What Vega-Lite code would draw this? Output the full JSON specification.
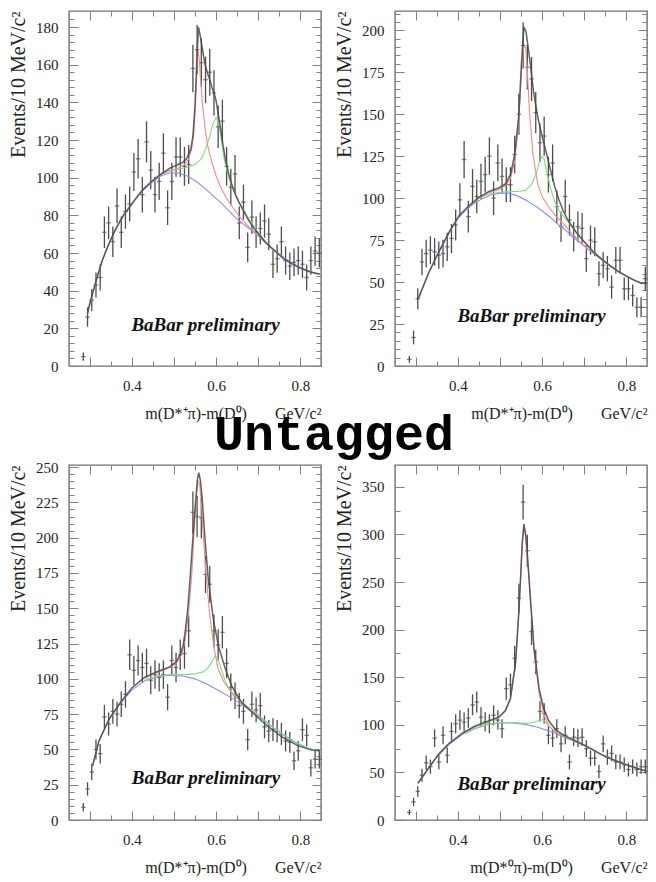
{
"$schema": "https://vega.github.io/schema/vega-lite/v6.json",
"background": "white",
"padding": {"left": 7, "top": 5, "right": 8, "bottom": 8},
"bounds": "flush",
"columns": 2,
"spacing": {"row": 99, "column": 74},
"config": {
  "view": {"stroke": "#707070", "strokeWidth": 1.4},
  "font": "Liberation Serif",
  "axis": {"grid": false, "domain": false, "labelFont": "Liberation Serif", "labelFontSize": 15, "labelColor": "#222222", "titleFont": "Liberation Serif", "titleFontWeight": "normal", "titleColor": "#222222", "tickColor": "#808080", "tickWidth": 1, "labelFlush": false, "labelOverlap": false, "labelBound": false}
},
"datasets": {
"pts": [
{"p":"TL","x":0.285,"y":5,"e":2.2},{"p":"TL","x":0.295,"y":26,"e":5.1},{"p":"TL","x":0.305,"y":35,"e":5.9},{"p":"TL","x":0.315,"y":43,"e":6.6},{"p":"TL","x":0.325,"y":47,"e":6.9},{"p":"TL","x":0.335,"y":71,"e":8.4},{"p":"TL","x":0.345,"y":76,"e":8.7},{"p":"TL","x":0.355,"y":66,"e":8.1},{"p":"TL","x":0.365,"y":85,"e":9.2},{"p":"TL","x":0.375,"y":71,"e":8.4},{"p":"TL","x":0.385,"y":82,"e":9.1},{"p":"TL","x":0.395,"y":86,"e":9.3},{"p":"TL","x":0.405,"y":103,"e":10.1},{"p":"TL","x":0.415,"y":110,"e":10.5},{"p":"TL","x":0.425,"y":91,"e":9.5},{"p":"TL","x":0.435,"y":119,"e":10.9},{"p":"TL","x":0.445,"y":104,"e":10.2},{"p":"TL","x":0.455,"y":91,"e":9.5},{"p":"TL","x":0.465,"y":98,"e":9.9},{"p":"TL","x":0.475,"y":113,"e":10.6},{"p":"TL","x":0.485,"y":84,"e":9.2},{"p":"TL","x":0.495,"y":98,"e":9.9},{"p":"TL","x":0.505,"y":111,"e":10.5},{"p":"TL","x":0.515,"y":111,"e":10.5},{"p":"TL","x":0.525,"y":106,"e":10.3},{"p":"TL","x":0.535,"y":107,"e":10.3},{"p":"TL","x":0.545,"y":158,"e":12.6},{"p":"TL","x":0.555,"y":168,"e":13},{"p":"TL","x":0.565,"y":161,"e":12.7},{"p":"TL","x":0.575,"y":152,"e":12.3},{"p":"TL","x":0.585,"y":156,"e":12.5},{"p":"TL","x":0.595,"y":145,"e":12},{"p":"TL","x":0.605,"y":127,"e":11.3},{"p":"TL","x":0.615,"y":130,"e":11.4},{"p":"TL","x":0.625,"y":106,"e":10.3},{"p":"TL","x":0.635,"y":95,"e":9.7},{"p":"TL","x":0.645,"y":102,"e":10.1},{"p":"TL","x":0.655,"y":76,"e":8.7},{"p":"TL","x":0.665,"y":87,"e":9.3},{"p":"TL","x":0.675,"y":63,"e":7.9},{"p":"TL","x":0.685,"y":79,"e":8.9},{"p":"TL","x":0.695,"y":71,"e":8.4},{"p":"TL","x":0.705,"y":73,"e":8.5},{"p":"TL","x":0.715,"y":77,"e":8.8},{"p":"TL","x":0.725,"y":70,"e":8.4},{"p":"TL","x":0.735,"y":54,"e":7.3},{"p":"TL","x":0.745,"y":57,"e":7.5},{"p":"TL","x":0.755,"y":66,"e":8.1},{"p":"TL","x":0.765,"y":56,"e":7.5},{"p":"TL","x":0.775,"y":53,"e":7.3},{"p":"TL","x":0.785,"y":55,"e":7.4},{"p":"TL","x":0.795,"y":56,"e":7.5},{"p":"TL","x":0.805,"y":54,"e":7.3},{"p":"TL","x":0.815,"y":47,"e":6.9},{"p":"TL","x":0.825,"y":56,"e":7.5},{"p":"TL","x":0.835,"y":61,"e":7.8},{"p":"TL","x":0.845,"y":60,"e":7.7},
{"p":"TR","x":0.285,"y":4,"e":2},{"p":"TR","x":0.295,"y":17,"e":4.1},{"p":"TR","x":0.305,"y":40,"e":6.3},{"p":"TR","x":0.315,"y":62,"e":7.9},{"p":"TR","x":0.325,"y":67,"e":8.2},{"p":"TR","x":0.335,"y":69,"e":8.3},{"p":"TR","x":0.345,"y":68,"e":8.2},{"p":"TR","x":0.355,"y":66,"e":8.1},{"p":"TR","x":0.365,"y":67,"e":8.2},{"p":"TR","x":0.375,"y":71,"e":8.4},{"p":"TR","x":0.385,"y":76,"e":8.7},{"p":"TR","x":0.395,"y":84,"e":9.2},{"p":"TR","x":0.405,"y":99,"e":9.9},{"p":"TR","x":0.415,"y":123,"e":11.1},{"p":"TR","x":0.425,"y":89,"e":9.4},{"p":"TR","x":0.435,"y":107,"e":10.3},{"p":"TR","x":0.445,"y":101,"e":10},{"p":"TR","x":0.455,"y":110,"e":10.5},{"p":"TR","x":0.465,"y":114,"e":10.7},{"p":"TR","x":0.475,"y":125,"e":11.2},{"p":"TR","x":0.485,"y":100,"e":10},{"p":"TR","x":0.495,"y":121,"e":11},{"p":"TR","x":0.505,"y":113,"e":10.6},{"p":"TR","x":0.515,"y":108,"e":10.4},{"p":"TR","x":0.525,"y":108,"e":10.4},{"p":"TR","x":0.535,"y":126,"e":11.2},{"p":"TR","x":0.545,"y":150,"e":12.2},{"p":"TR","x":0.555,"y":191,"e":13.8},{"p":"TR","x":0.565,"y":178,"e":13.3},{"p":"TR","x":0.575,"y":171,"e":13.1},{"p":"TR","x":0.585,"y":151,"e":12.3},{"p":"TR","x":0.595,"y":133,"e":11.5},{"p":"TR","x":0.605,"y":137,"e":11.7},{"p":"TR","x":0.615,"y":114,"e":10.7},{"p":"TR","x":0.625,"y":121,"e":11},{"p":"TR","x":0.635,"y":95,"e":9.7},{"p":"TR","x":0.645,"y":83,"e":9.1},{"p":"TR","x":0.655,"y":101,"e":10},{"p":"TR","x":0.665,"y":87,"e":9.3},{"p":"TR","x":0.675,"y":77,"e":8.8},{"p":"TR","x":0.685,"y":83,"e":9.1},{"p":"TR","x":0.695,"y":82,"e":9.1},{"p":"TR","x":0.705,"y":64,"e":8},{"p":"TR","x":0.715,"y":75,"e":8.7},{"p":"TR","x":0.725,"y":74,"e":8.6},{"p":"TR","x":0.735,"y":55,"e":7.4},{"p":"TR","x":0.745,"y":60,"e":7.7},{"p":"TR","x":0.755,"y":58,"e":7.6},{"p":"TR","x":0.765,"y":47,"e":6.9},{"p":"TR","x":0.775,"y":63,"e":7.9},{"p":"TR","x":0.785,"y":63,"e":7.9},{"p":"TR","x":0.795,"y":46,"e":6.8},{"p":"TR","x":0.805,"y":46,"e":6.8},{"p":"TR","x":0.815,"y":42,"e":6.5},{"p":"TR","x":0.825,"y":35,"e":5.9},{"p":"TR","x":0.835,"y":35,"e":5.9},{"p":"TR","x":0.845,"y":52,"e":7.2},
{"p":"BL","x":0.285,"y":9,"e":3},{"p":"BL","x":0.295,"y":22,"e":4.7},{"p":"BL","x":0.305,"y":34,"e":5.8},{"p":"BL","x":0.315,"y":50,"e":7.1},{"p":"BL","x":0.325,"y":47,"e":6.9},{"p":"BL","x":0.335,"y":73,"e":8.5},{"p":"BL","x":0.345,"y":68,"e":8.2},{"p":"BL","x":0.355,"y":77,"e":8.8},{"p":"BL","x":0.365,"y":75,"e":8.7},{"p":"BL","x":0.375,"y":82,"e":9.1},{"p":"BL","x":0.385,"y":89,"e":9.4},{"p":"BL","x":0.395,"y":117,"e":10.8},{"p":"BL","x":0.405,"y":106,"e":10.3},{"p":"BL","x":0.415,"y":113,"e":10.6},{"p":"BL","x":0.425,"y":108,"e":10.4},{"p":"BL","x":0.435,"y":111,"e":10.5},{"p":"BL","x":0.445,"y":99,"e":9.9},{"p":"BL","x":0.455,"y":103,"e":10.1},{"p":"BL","x":0.465,"y":101,"e":10},{"p":"BL","x":0.475,"y":103,"e":10.1},{"p":"BL","x":0.485,"y":87,"e":9.3},{"p":"BL","x":0.495,"y":113,"e":10.6},{"p":"BL","x":0.505,"y":108,"e":10.4},{"p":"BL","x":0.515,"y":117,"e":10.8},{"p":"BL","x":0.525,"y":118,"e":10.8},{"p":"BL","x":0.535,"y":134,"e":11.6},{"p":"BL","x":0.545,"y":218,"e":14.8},{"p":"BL","x":0.555,"y":215,"e":14.7},{"p":"BL","x":0.565,"y":214,"e":14.6},{"p":"BL","x":0.575,"y":174,"e":13.2},{"p":"BL","x":0.585,"y":167,"e":12.9},{"p":"BL","x":0.595,"y":134,"e":11.6},{"p":"BL","x":0.605,"y":124,"e":11.1},{"p":"BL","x":0.615,"y":133,"e":11.5},{"p":"BL","x":0.625,"y":111,"e":10.5},{"p":"BL","x":0.635,"y":94,"e":9.7},{"p":"BL","x":0.645,"y":88,"e":9.4},{"p":"BL","x":0.655,"y":81,"e":9},{"p":"BL","x":0.665,"y":77,"e":8.8},{"p":"BL","x":0.675,"y":57,"e":7.5},{"p":"BL","x":0.685,"y":82,"e":9.1},{"p":"BL","x":0.695,"y":78,"e":8.8},{"p":"BL","x":0.705,"y":81,"e":9},{"p":"BL","x":0.715,"y":66,"e":8.1},{"p":"BL","x":0.725,"y":63,"e":7.9},{"p":"BL","x":0.735,"y":64,"e":8},{"p":"BL","x":0.745,"y":63,"e":7.9},{"p":"BL","x":0.755,"y":61,"e":7.8},{"p":"BL","x":0.765,"y":56,"e":7.5},{"p":"BL","x":0.775,"y":55,"e":7.4},{"p":"BL","x":0.785,"y":42,"e":6.5},{"p":"BL","x":0.795,"y":49,"e":7},{"p":"BL","x":0.805,"y":64,"e":8},{"p":"BL","x":0.815,"y":60,"e":7.7},{"p":"BL","x":0.825,"y":37,"e":6.1},{"p":"BL","x":0.835,"y":43,"e":6.6},{"p":"BL","x":0.845,"y":43,"e":6.6},
{"p":"BR","x":0.285,"y":8,"e":2.8},{"p":"BR","x":0.295,"y":19,"e":4.4},{"p":"BR","x":0.305,"y":30,"e":5.5},{"p":"BR","x":0.315,"y":47,"e":6.9},{"p":"BR","x":0.325,"y":60,"e":7.7},{"p":"BR","x":0.335,"y":56,"e":7.5},{"p":"BR","x":0.345,"y":86,"e":9.3},{"p":"BR","x":0.355,"y":61,"e":7.8},{"p":"BR","x":0.365,"y":89,"e":9.4},{"p":"BR","x":0.375,"y":68,"e":8.2},{"p":"BR","x":0.385,"y":93,"e":9.6},{"p":"BR","x":0.395,"y":101,"e":10},{"p":"BR","x":0.405,"y":105,"e":10.2},{"p":"BR","x":0.415,"y":103,"e":10.1},{"p":"BR","x":0.425,"y":107,"e":10.3},{"p":"BR","x":0.435,"y":121,"e":11},{"p":"BR","x":0.445,"y":124,"e":11.1},{"p":"BR","x":0.455,"y":108,"e":10.4},{"p":"BR","x":0.465,"y":103,"e":10.1},{"p":"BR","x":0.475,"y":101,"e":10},{"p":"BR","x":0.485,"y":110,"e":10.5},{"p":"BR","x":0.495,"y":105,"e":10.2},{"p":"BR","x":0.505,"y":96,"e":9.8},{"p":"BR","x":0.515,"y":138,"e":11.7},{"p":"BR","x":0.525,"y":142,"e":11.9},{"p":"BR","x":0.535,"y":170,"e":13},{"p":"BR","x":0.545,"y":233,"e":15.3},{"p":"BR","x":0.555,"y":334,"e":18.3},{"p":"BR","x":0.565,"y":283,"e":16.8},{"p":"BR","x":0.575,"y":198,"e":14.1},{"p":"BR","x":0.585,"y":166,"e":12.9},{"p":"BR","x":0.595,"y":114,"e":10.7},{"p":"BR","x":0.605,"y":112,"e":10.6},{"p":"BR","x":0.615,"y":89,"e":9.4},{"p":"BR","x":0.625,"y":86,"e":9.3},{"p":"BR","x":0.635,"y":96,"e":9.8},{"p":"BR","x":0.645,"y":80,"e":8.9},{"p":"BR","x":0.655,"y":89,"e":9.4},{"p":"BR","x":0.665,"y":61,"e":7.8},{"p":"BR","x":0.675,"y":87,"e":9.3},{"p":"BR","x":0.685,"y":86,"e":9.3},{"p":"BR","x":0.695,"y":87,"e":9.3},{"p":"BR","x":0.705,"y":75,"e":8.7},{"p":"BR","x":0.715,"y":65,"e":8.1},{"p":"BR","x":0.725,"y":65,"e":8.1},{"p":"BR","x":0.735,"y":51,"e":7.1},{"p":"BR","x":0.745,"y":80,"e":8.9},{"p":"BR","x":0.755,"y":66,"e":8.1},{"p":"BR","x":0.765,"y":70,"e":8.4},{"p":"BR","x":0.775,"y":61,"e":7.8},{"p":"BR","x":0.785,"y":61,"e":7.8},{"p":"BR","x":0.795,"y":58,"e":7.6},{"p":"BR","x":0.805,"y":53,"e":7.3},{"p":"BR","x":0.815,"y":56,"e":7.5},{"p":"BR","x":0.825,"y":53,"e":7.3},{"p":"BR","x":0.835,"y":56,"e":7.5},{"p":"BR","x":0.845,"y":56,"e":7.5}
],
"crv": [
{"p":"TL","c":"b","x":0.295,"y":28},{"p":"TL","c":"b","x":0.31,"y":41},{"p":"TL","c":"b","x":0.33,"y":56},{"p":"TL","c":"b","x":0.35,"y":67},{"p":"TL","c":"b","x":0.37,"y":76},{"p":"TL","c":"b","x":0.39,"y":83},{"p":"TL","c":"b","x":0.41,"y":89},{"p":"TL","c":"b","x":0.43,"y":94},{"p":"TL","c":"b","x":0.45,"y":98},{"p":"TL","c":"b","x":0.47,"y":101},{"p":"TL","c":"b","x":0.49,"y":102.5},{"p":"TL","c":"b","x":0.51,"y":102.5},{"p":"TL","c":"b","x":0.53,"y":101},{"p":"TL","c":"b","x":0.55,"y":98.5},{"p":"TL","c":"b","x":0.57,"y":95},{"p":"TL","c":"b","x":0.59,"y":91},{"p":"TL","c":"b","x":0.61,"y":87},{"p":"TL","c":"b","x":0.63,"y":82.5},{"p":"TL","c":"b","x":0.65,"y":78},{"p":"TL","c":"b","x":0.67,"y":74.5},{"p":"TL","c":"b","x":0.69,"y":71},{"p":"TL","c":"b","x":0.71,"y":67},{"p":"TL","c":"b","x":0.73,"y":63},{"p":"TL","c":"b","x":0.75,"y":59.5},{"p":"TL","c":"b","x":0.77,"y":56.3},{"p":"TL","c":"b","x":0.79,"y":53.5},{"p":"TL","c":"b","x":0.81,"y":51.3},{"p":"TL","c":"b","x":0.83,"y":49.8},{"p":"TL","c":"b","x":0.846,"y":48.8},
{"p":"TL","c":"g","x":0.43,"y":94.3},{"p":"TL","c":"g","x":0.45,"y":98.5},{"p":"TL","c":"g","x":0.47,"y":101.8},{"p":"TL","c":"g","x":0.49,"y":103.5},{"p":"TL","c":"g","x":0.51,"y":104.5},{"p":"TL","c":"g","x":0.53,"y":105.5},{"p":"TL","c":"g","x":0.55,"y":107},{"p":"TL","c":"g","x":0.565,"y":110},{"p":"TL","c":"g","x":0.575,"y":115},{"p":"TL","c":"g","x":0.585,"y":122},{"p":"TL","c":"g","x":0.593,"y":129},{"p":"TL","c":"g","x":0.6,"y":132},{"p":"TL","c":"g","x":0.605,"y":130},{"p":"TL","c":"g","x":0.61,"y":124},{"p":"TL","c":"g","x":0.615,"y":116},{"p":"TL","c":"g","x":0.62,"y":109},{"p":"TL","c":"g","x":0.63,"y":100},{"p":"TL","c":"g","x":0.64,"y":94},{"p":"TL","c":"g","x":0.654,"y":87.5},{"p":"TL","c":"g","x":0.665,"y":83},{"p":"TL","c":"g","x":0.68,"y":77.5},{"p":"TL","c":"g","x":0.7,"y":71},{"p":"TL","c":"g","x":0.72,"y":65.5},{"p":"TL","c":"g","x":0.74,"y":61},{"p":"TL","c":"g","x":0.76,"y":57},{"p":"TL","c":"g","x":0.78,"y":54.3},{"p":"TL","c":"g","x":0.8,"y":52},{"p":"TL","c":"g","x":0.82,"y":50.2},{"p":"TL","c":"g","x":0.846,"y":48.8},
{"p":"TL","c":"r","x":0.43,"y":94.3},{"p":"TL","c":"r","x":0.45,"y":98.5},{"p":"TL","c":"r","x":0.47,"y":101.8},{"p":"TL","c":"r","x":0.49,"y":103.8},{"p":"TL","c":"r","x":0.51,"y":105},{"p":"TL","c":"r","x":0.525,"y":107},{"p":"TL","c":"r","x":0.535,"y":110},{"p":"TL","c":"r","x":0.542,"y":115},{"p":"TL","c":"r","x":0.547,"y":123},{"p":"TL","c":"r","x":0.551,"y":138},{"p":"TL","c":"r","x":0.554,"y":155},{"p":"TL","c":"r","x":0.557,"y":168},{"p":"TL","c":"r","x":0.56,"y":163},{"p":"TL","c":"r","x":0.564,"y":150},{"p":"TL","c":"r","x":0.568,"y":138},{"p":"TL","c":"r","x":0.574,"y":126},{"p":"TL","c":"r","x":0.58,"y":117},{"p":"TL","c":"r","x":0.59,"y":108},{"p":"TL","c":"r","x":0.6,"y":101},{"p":"TL","c":"r","x":0.61,"y":95.5},{"p":"TL","c":"r","x":0.625,"y":89},{"p":"TL","c":"r","x":0.64,"y":84},{"p":"TL","c":"r","x":0.66,"y":78},{"p":"TL","c":"r","x":0.68,"y":73.5},{"p":"TL","c":"r","x":0.7,"y":69.5},{"p":"TL","c":"r","x":0.72,"y":65},
{"p":"TL","c":"k","x":0.295,"y":28},{"p":"TL","c":"k","x":0.3,"y":33},{"p":"TL","c":"k","x":0.31,"y":41},{"p":"TL","c":"k","x":0.32,"y":49},{"p":"TL","c":"k","x":0.33,"y":56},{"p":"TL","c":"k","x":0.34,"y":62},{"p":"TL","c":"k","x":0.35,"y":67},{"p":"TL","c":"k","x":0.36,"y":72},{"p":"TL","c":"k","x":0.37,"y":76},{"p":"TL","c":"k","x":0.38,"y":80},{"p":"TL","c":"k","x":0.39,"y":83},{"p":"TL","c":"k","x":0.4,"y":86},{"p":"TL","c":"k","x":0.41,"y":89},{"p":"TL","c":"k","x":0.42,"y":92},{"p":"TL","c":"k","x":0.43,"y":94.5},{"p":"TL","c":"k","x":0.44,"y":96.5},{"p":"TL","c":"k","x":0.45,"y":98.5},{"p":"TL","c":"k","x":0.46,"y":100.3},{"p":"TL","c":"k","x":0.47,"y":102},{"p":"TL","c":"k","x":0.48,"y":103.5},{"p":"TL","c":"k","x":0.49,"y":105},{"p":"TL","c":"k","x":0.5,"y":106},{"p":"TL","c":"k","x":0.51,"y":107},{"p":"TL","c":"k","x":0.52,"y":108},{"p":"TL","c":"k","x":0.53,"y":110},{"p":"TL","c":"k","x":0.54,"y":115},{"p":"TL","c":"k","x":0.545,"y":122},{"p":"TL","c":"k","x":0.55,"y":138},{"p":"TL","c":"k","x":0.554,"y":160},{"p":"TL","c":"k","x":0.558,"y":180},{"p":"TL","c":"k","x":0.562,"y":176},{"p":"TL","c":"k","x":0.567,"y":169},{"p":"TL","c":"k","x":0.573,"y":161},{"p":"TL","c":"k","x":0.579,"y":156},{"p":"TL","c":"k","x":0.585,"y":152},{"p":"TL","c":"k","x":0.59,"y":148},{"p":"TL","c":"k","x":0.595,"y":145},{"p":"TL","c":"k","x":0.6,"y":141},{"p":"TL","c":"k","x":0.605,"y":134},{"p":"TL","c":"k","x":0.61,"y":127},{"p":"TL","c":"k","x":0.616,"y":118},{"p":"TL","c":"k","x":0.622,"y":110},{"p":"TL","c":"k","x":0.63,"y":102},{"p":"TL","c":"k","x":0.638,"y":96},{"p":"TL","c":"k","x":0.646,"y":91},{"p":"TL","c":"k","x":0.654,"y":87},{"p":"TL","c":"k","x":0.665,"y":82.5},{"p":"TL","c":"k","x":0.677,"y":77.5},{"p":"TL","c":"k","x":0.69,"y":73},{"p":"TL","c":"k","x":0.7,"y":70.5},{"p":"TL","c":"k","x":0.716,"y":66},{"p":"TL","c":"k","x":0.73,"y":63},{"p":"TL","c":"k","x":0.745,"y":60},{"p":"TL","c":"k","x":0.76,"y":57},{"p":"TL","c":"k","x":0.78,"y":54.3},{"p":"TL","c":"k","x":0.8,"y":52},{"p":"TL","c":"k","x":0.82,"y":50.2},{"p":"TL","c":"k","x":0.835,"y":49.2},{"p":"TL","c":"k","x":0.846,"y":48.8},
{"p":"TR","c":"b","x":0.306,"y":40},{"p":"TR","c":"b","x":0.33,"y":55},{"p":"TR","c":"b","x":0.355,"y":68},{"p":"TR","c":"b","x":0.38,"y":79.5},{"p":"TR","c":"b","x":0.4,"y":88},{"p":"TR","c":"b","x":0.42,"y":93},{"p":"TR","c":"b","x":0.44,"y":97},{"p":"TR","c":"b","x":0.46,"y":100},{"p":"TR","c":"b","x":0.48,"y":102},{"p":"TR","c":"b","x":0.5,"y":103},{"p":"TR","c":"b","x":0.52,"y":103},{"p":"TR","c":"b","x":0.54,"y":101.5},{"p":"TR","c":"b","x":0.56,"y":99},{"p":"TR","c":"b","x":0.58,"y":96},{"p":"TR","c":"b","x":0.6,"y":92.5},{"p":"TR","c":"b","x":0.62,"y":88.5},{"p":"TR","c":"b","x":0.64,"y":84},{"p":"TR","c":"b","x":0.66,"y":80},{"p":"TR","c":"b","x":0.68,"y":75.5},{"p":"TR","c":"b","x":0.7,"y":71.5},{"p":"TR","c":"b","x":0.72,"y":67.5},{"p":"TR","c":"b","x":0.74,"y":63.5},{"p":"TR","c":"b","x":0.76,"y":60},{"p":"TR","c":"b","x":0.78,"y":56.5},{"p":"TR","c":"b","x":0.8,"y":53.5},{"p":"TR","c":"b","x":0.82,"y":51},{"p":"TR","c":"b","x":0.835,"y":49.5},{"p":"TR","c":"b","x":0.85,"y":49},
{"p":"TR","c":"g","x":0.426,"y":95},{"p":"TR","c":"g","x":0.45,"y":100},{"p":"TR","c":"g","x":0.474,"y":102.5},{"p":"TR","c":"g","x":0.5,"y":103.5},{"p":"TR","c":"g","x":0.52,"y":104},{"p":"TR","c":"g","x":0.54,"y":104},{"p":"TR","c":"g","x":0.56,"y":104.5},{"p":"TR","c":"g","x":0.575,"y":108},{"p":"TR","c":"g","x":0.585,"y":114},{"p":"TR","c":"g","x":0.593,"y":121},{"p":"TR","c":"g","x":0.6,"y":125},{"p":"TR","c":"g","x":0.605,"y":123},{"p":"TR","c":"g","x":0.61,"y":117},{"p":"TR","c":"g","x":0.62,"y":106},{"p":"TR","c":"g","x":0.63,"y":98},{"p":"TR","c":"g","x":0.64,"y":92.5},{"p":"TR","c":"g","x":0.66,"y":86.5},{"p":"TR","c":"g","x":0.68,"y":80},{"p":"TR","c":"g","x":0.7,"y":74},{"p":"TR","c":"g","x":0.72,"y":68.5},{"p":"TR","c":"g","x":0.74,"y":64},{"p":"TR","c":"g","x":0.76,"y":60},{"p":"TR","c":"g","x":0.78,"y":56.5},{"p":"TR","c":"g","x":0.8,"y":53.5},{"p":"TR","c":"g","x":0.82,"y":51},{"p":"TR","c":"g","x":0.835,"y":49.5},{"p":"TR","c":"g","x":0.85,"y":49},
{"p":"TR","c":"r","x":0.426,"y":95},{"p":"TR","c":"r","x":0.45,"y":100.2},{"p":"TR","c":"r","x":0.474,"y":103.2},{"p":"TR","c":"r","x":0.497,"y":105},{"p":"TR","c":"r","x":0.513,"y":107.5},{"p":"TR","c":"r","x":0.525,"y":112},{"p":"TR","c":"r","x":0.535,"y":122},{"p":"TR","c":"r","x":0.542,"y":138},{"p":"TR","c":"r","x":0.548,"y":160},{"p":"TR","c":"r","x":0.552,"y":180},{"p":"TR","c":"r","x":0.556,"y":190},{"p":"TR","c":"r","x":0.561,"y":190},{"p":"TR","c":"r","x":0.565,"y":176},{"p":"TR","c":"r","x":0.57,"y":152},{"p":"TR","c":"r","x":0.578,"y":127},{"p":"TR","c":"r","x":0.59,"y":108},{"p":"TR","c":"r","x":0.6,"y":101},{"p":"TR","c":"r","x":0.615,"y":95},{"p":"TR","c":"r","x":0.63,"y":90},{"p":"TR","c":"r","x":0.65,"y":85},{"p":"TR","c":"r","x":0.67,"y":79},{"p":"TR","c":"r","x":0.69,"y":74},{"p":"TR","c":"r","x":0.71,"y":69.5},
{"p":"TR","c":"k","x":0.306,"y":40},{"p":"TR","c":"k","x":0.33,"y":55},{"p":"TR","c":"k","x":0.355,"y":68},{"p":"TR","c":"k","x":0.38,"y":80},{"p":"TR","c":"k","x":0.403,"y":89.5},{"p":"TR","c":"k","x":0.426,"y":95.5},{"p":"TR","c":"k","x":0.45,"y":100.5},{"p":"TR","c":"k","x":0.474,"y":104},{"p":"TR","c":"k","x":0.497,"y":106},{"p":"TR","c":"k","x":0.513,"y":108.5},{"p":"TR","c":"k","x":0.525,"y":114},{"p":"TR","c":"k","x":0.535,"y":126},{"p":"TR","c":"k","x":0.545,"y":150},{"p":"TR","c":"k","x":0.551,"y":180},{"p":"TR","c":"k","x":0.557,"y":202},{"p":"TR","c":"k","x":0.562,"y":199},{"p":"TR","c":"k","x":0.567,"y":190},{"p":"TR","c":"k","x":0.573,"y":178},{"p":"TR","c":"k","x":0.58,"y":163},{"p":"TR","c":"k","x":0.59,"y":148},{"p":"TR","c":"k","x":0.6,"y":137},{"p":"TR","c":"k","x":0.61,"y":127},{"p":"TR","c":"k","x":0.62,"y":117},{"p":"TR","c":"k","x":0.63,"y":107},{"p":"TR","c":"k","x":0.64,"y":99},{"p":"TR","c":"k","x":0.65,"y":92.5},{"p":"TR","c":"k","x":0.66,"y":87.5},{"p":"TR","c":"k","x":0.68,"y":80},{"p":"TR","c":"k","x":0.7,"y":74},{"p":"TR","c":"k","x":0.72,"y":68.5},{"p":"TR","c":"k","x":0.74,"y":64},{"p":"TR","c":"k","x":0.76,"y":60},{"p":"TR","c":"k","x":0.78,"y":56.5},{"p":"TR","c":"k","x":0.8,"y":53.5},{"p":"TR","c":"k","x":0.82,"y":51},{"p":"TR","c":"k","x":0.835,"y":49.3},{"p":"TR","c":"k","x":0.85,"y":49.3},
{"p":"BL","c":"b","x":0.307,"y":38.4},{"p":"BL","c":"b","x":0.322,"y":56},{"p":"BL","c":"b","x":0.346,"y":71},{"p":"BL","c":"b","x":0.37,"y":81.5},{"p":"BL","c":"b","x":0.4,"y":92},{"p":"BL","c":"b","x":0.43,"y":98.5},{"p":"BL","c":"b","x":0.46,"y":101.5},{"p":"BL","c":"b","x":0.49,"y":102.5},{"p":"BL","c":"b","x":0.52,"y":102},{"p":"BL","c":"b","x":0.55,"y":100},{"p":"BL","c":"b","x":0.58,"y":96},{"p":"BL","c":"b","x":0.61,"y":91},{"p":"BL","c":"b","x":0.64,"y":86},{"p":"BL","c":"b","x":0.67,"y":80},{"p":"BL","c":"b","x":0.7,"y":73.5},{"p":"BL","c":"b","x":0.73,"y":66.5},{"p":"BL","c":"b","x":0.76,"y":60},{"p":"BL","c":"b","x":0.79,"y":54.5},{"p":"BL","c":"b","x":0.82,"y":50.5},{"p":"BL","c":"b","x":0.846,"y":49},
{"p":"BL","c":"g","x":0.43,"y":99},{"p":"BL","c":"g","x":0.46,"y":102},{"p":"BL","c":"g","x":0.49,"y":103},{"p":"BL","c":"g","x":0.52,"y":103},{"p":"BL","c":"g","x":0.55,"y":103.5},{"p":"BL","c":"g","x":0.57,"y":105},{"p":"BL","c":"g","x":0.58,"y":107.5},{"p":"BL","c":"g","x":0.59,"y":112},{"p":"BL","c":"g","x":0.597,"y":116},{"p":"BL","c":"g","x":0.603,"y":115},{"p":"BL","c":"g","x":0.61,"y":109},{"p":"BL","c":"g","x":0.62,"y":100},{"p":"BL","c":"g","x":0.63,"y":93},{"p":"BL","c":"g","x":0.645,"y":88},{"p":"BL","c":"g","x":0.66,"y":84},{"p":"BL","c":"g","x":0.68,"y":79},{"p":"BL","c":"g","x":0.7,"y":74.5},{"p":"BL","c":"g","x":0.73,"y":67},{"p":"BL","c":"g","x":0.76,"y":60.5},{"p":"BL","c":"g","x":0.79,"y":55},{"p":"BL","c":"g","x":0.82,"y":50.8},{"p":"BL","c":"g","x":0.846,"y":49},
{"p":"BL","c":"r","x":0.43,"y":100.5},{"p":"BL","c":"r","x":0.46,"y":104.5},{"p":"BL","c":"r","x":0.49,"y":108},{"p":"BL","c":"r","x":0.505,"y":111},{"p":"BL","c":"r","x":0.515,"y":115},{"p":"BL","c":"r","x":0.522,"y":121},{"p":"BL","c":"r","x":0.528,"y":130},{"p":"BL","c":"r","x":0.535,"y":148},{"p":"BL","c":"r","x":0.542,"y":172},{"p":"BL","c":"r","x":0.548,"y":205},{"p":"BL","c":"r","x":0.553,"y":230},{"p":"BL","c":"r","x":0.557,"y":240},{"p":"BL","c":"r","x":0.561,"y":238},{"p":"BL","c":"r","x":0.565,"y":225},{"p":"BL","c":"r","x":0.57,"y":200},{"p":"BL","c":"r","x":0.576,"y":175},{"p":"BL","c":"r","x":0.585,"y":145},{"p":"BL","c":"r","x":0.595,"y":122},{"p":"BL","c":"r","x":0.605,"y":107},{"p":"BL","c":"r","x":0.62,"y":97},{"p":"BL","c":"r","x":0.64,"y":89},{"p":"BL","c":"r","x":0.66,"y":83.5},{"p":"BL","c":"r","x":0.68,"y":78.5},{"p":"BL","c":"r","x":0.7,"y":74},
{"p":"BL","c":"k","x":0.307,"y":38.4},{"p":"BL","c":"k","x":0.322,"y":56},{"p":"BL","c":"k","x":0.346,"y":71.5},{"p":"BL","c":"k","x":0.37,"y":82},{"p":"BL","c":"k","x":0.4,"y":93.5},{"p":"BL","c":"k","x":0.43,"y":101},{"p":"BL","c":"k","x":0.46,"y":105},{"p":"BL","c":"k","x":0.49,"y":108.5},{"p":"BL","c":"k","x":0.505,"y":112},{"p":"BL","c":"k","x":0.515,"y":117},{"p":"BL","c":"k","x":0.522,"y":124},{"p":"BL","c":"k","x":0.527,"y":134},{"p":"BL","c":"k","x":0.533,"y":150},{"p":"BL","c":"k","x":0.539,"y":174},{"p":"BL","c":"k","x":0.545,"y":200},{"p":"BL","c":"k","x":0.551,"y":224},{"p":"BL","c":"k","x":0.556,"y":242},{"p":"BL","c":"k","x":0.559,"y":246},{"p":"BL","c":"k","x":0.563,"y":240},{"p":"BL","c":"k","x":0.567,"y":228},{"p":"BL","c":"k","x":0.574,"y":198},{"p":"BL","c":"k","x":0.582,"y":169},{"p":"BL","c":"k","x":0.594,"y":141},{"p":"BL","c":"k","x":0.606,"y":123},{"p":"BL","c":"k","x":0.614,"y":115},{"p":"BL","c":"k","x":0.621,"y":108},{"p":"BL","c":"k","x":0.637,"y":95},{"p":"BL","c":"k","x":0.661,"y":83},{"p":"BL","c":"k","x":0.685,"y":76.5},{"p":"BL","c":"k","x":0.716,"y":68},{"p":"BL","c":"k","x":0.755,"y":59},{"p":"BL","c":"k","x":0.795,"y":52.5},{"p":"BL","c":"k","x":0.827,"y":49.5},{"p":"BL","c":"k","x":0.846,"y":49},
{"p":"BR","c":"b","x":0.305,"y":38.5},{"p":"BR","c":"b","x":0.33,"y":54},{"p":"BR","c":"b","x":0.354,"y":68},{"p":"BR","c":"b","x":0.378,"y":79},{"p":"BR","c":"b","x":0.41,"y":89.5},{"p":"BR","c":"b","x":0.44,"y":96},{"p":"BR","c":"b","x":0.47,"y":100},{"p":"BR","c":"b","x":0.5,"y":102},{"p":"BR","c":"b","x":0.53,"y":102},{"p":"BR","c":"b","x":0.56,"y":100.5},{"p":"BR","c":"b","x":0.59,"y":97.5},{"p":"BR","c":"b","x":0.62,"y":93},{"p":"BR","c":"b","x":0.65,"y":87.5},{"p":"BR","c":"b","x":0.68,"y":82},{"p":"BR","c":"b","x":0.71,"y":76},{"p":"BR","c":"b","x":0.74,"y":69},{"p":"BR","c":"b","x":0.77,"y":63},{"p":"BR","c":"b","x":0.8,"y":58},{"p":"BR","c":"b","x":0.83,"y":53.5},{"p":"BR","c":"b","x":0.85,"y":51},
{"p":"BR","c":"g","x":0.41,"y":89.8},{"p":"BR","c":"g","x":0.44,"y":96.5},{"p":"BR","c":"g","x":0.47,"y":100.5},{"p":"BR","c":"g","x":0.5,"y":102.5},{"p":"BR","c":"g","x":0.53,"y":102.5},{"p":"BR","c":"g","x":0.56,"y":101.5},{"p":"BR","c":"g","x":0.58,"y":102.5},{"p":"BR","c":"g","x":0.595,"y":105},{"p":"BR","c":"g","x":0.602,"y":105.5},{"p":"BR","c":"g","x":0.608,"y":103},{"p":"BR","c":"g","x":0.615,"y":99},{"p":"BR","c":"g","x":0.625,"y":95},{"p":"BR","c":"g","x":0.64,"y":91},{"p":"BR","c":"g","x":0.66,"y":86.5},{"p":"BR","c":"g","x":0.68,"y":82.5},{"p":"BR","c":"g","x":0.71,"y":76.3},{"p":"BR","c":"g","x":0.74,"y":69.2},{"p":"BR","c":"g","x":0.77,"y":63.2},{"p":"BR","c":"g","x":0.8,"y":58.2},{"p":"BR","c":"g","x":0.83,"y":53.6},{"p":"BR","c":"g","x":0.85,"y":51.1},
{"p":"BR","c":"r","x":0.41,"y":90.5},{"p":"BR","c":"r","x":0.44,"y":98},{"p":"BR","c":"r","x":0.47,"y":103},{"p":"BR","c":"r","x":0.497,"y":107.5},{"p":"BR","c":"r","x":0.513,"y":114.5},{"p":"BR","c":"r","x":0.525,"y":127},{"p":"BR","c":"r","x":0.537,"y":163},{"p":"BR","c":"r","x":0.545,"y":218},{"p":"BR","c":"r","x":0.549,"y":253},{"p":"BR","c":"r","x":0.553,"y":290},{"p":"BR","c":"r","x":0.557,"y":309},{"p":"BR","c":"r","x":0.561,"y":298},{"p":"BR","c":"r","x":0.565,"y":278},{"p":"BR","c":"r","x":0.573,"y":226},{"p":"BR","c":"r","x":0.581,"y":176},{"p":"BR","c":"r","x":0.593,"y":133},{"p":"BR","c":"r","x":0.604,"y":111},{"p":"BR","c":"r","x":0.616,"y":99},{"p":"BR","c":"r","x":0.632,"y":92},{"p":"BR","c":"r","x":0.65,"y":88.5},{"p":"BR","c":"r","x":0.68,"y":82.5},{"p":"BR","c":"r","x":0.71,"y":76.3},
{"p":"BR","c":"k","x":0.305,"y":38.5},{"p":"BR","c":"k","x":0.33,"y":54},{"p":"BR","c":"k","x":0.354,"y":69},{"p":"BR","c":"k","x":0.378,"y":80},{"p":"BR","c":"k","x":0.41,"y":91},{"p":"BR","c":"k","x":0.44,"y":98.5},{"p":"BR","c":"k","x":0.47,"y":103.5},{"p":"BR","c":"k","x":0.497,"y":108},{"p":"BR","c":"k","x":0.513,"y":115},{"p":"BR","c":"k","x":0.525,"y":128},{"p":"BR","c":"k","x":0.537,"y":165},{"p":"BR","c":"k","x":0.545,"y":220},{"p":"BR","c":"k","x":0.549,"y":255},{"p":"BR","c":"k","x":0.553,"y":292},{"p":"BR","c":"k","x":0.557,"y":311},{"p":"BR","c":"k","x":0.561,"y":300},{"p":"BR","c":"k","x":0.565,"y":280},{"p":"BR","c":"k","x":0.573,"y":229},{"p":"BR","c":"k","x":0.581,"y":180},{"p":"BR","c":"k","x":0.593,"y":138},{"p":"BR","c":"k","x":0.604,"y":117},{"p":"BR","c":"k","x":0.616,"y":104},{"p":"BR","c":"k","x":0.632,"y":95},{"p":"BR","c":"k","x":0.65,"y":89.5},{"p":"BR","c":"k","x":0.68,"y":83},{"p":"BR","c":"k","x":0.71,"y":76.5},{"p":"BR","c":"k","x":0.74,"y":69},{"p":"BR","c":"k","x":0.77,"y":63},{"p":"BR","c":"k","x":0.8,"y":58},{"p":"BR","c":"k","x":0.83,"y":53.5},{"p":"BR","c":"k","x":0.85,"y":51}
],
"lbl": [
{"p":"TL","x":0.575,"y":22,"t":"BaBar preliminary"},
{"p":"TR","x":0.575,"y":30,"t":"BaBar preliminary"},
{"p":"BL","x":0.576,"y":30,"t":"BaBar preliminary"},
{"p":"BR","x":0.575,"y":38,"t":"BaBar preliminary"}
]
},
"concat": [
{
 "width": 252, "height": 355,
 "layer": [
  {"data": {"name": "pts"}, "transform": [{"filter": "datum.p=='TL'"}],
   "mark": {"type": "errorbar", "ticks": false, "thickness": 1.3, "color": "#4d4d4d"},
   "encoding": {"x": {"field": "x", "type": "quantitative", "scale": {"domain": [0.251, 0.849], "nice": false, "zero": false}, "axis": null},
     "y": {"field": "y", "type": "quantitative", "scale": {"domain": [0, 188.5], "nice": false, "zero": false}, "axis": null},
     "yError": {"field": "e"}}},
  {"data": {"name": "pts"}, "transform": [{"filter": "datum.p=='TL'"}],
   "mark": {"type": "tick", "orient": "horizontal", "size": 4.5, "thickness": 1.3, "color": "#4d4d4d"},
   "encoding": {"x": {"field": "x", "type": "quantitative", "scale": {"domain": [0.251, 0.849], "nice": false, "zero": false},
      "axis": {"orient": "bottom", "values": [0.3,0.35,0.4,0.45,0.5,0.55,0.6,0.65,0.7,0.75,0.8], "labelExpr": "datum.value == 0.4 || datum.value == 0.6 || datum.value == 0.8 ? format(datum.value, '.1f') : ''", "tickSize": {"condition": {"test": "indexof([0.3,0.4,0.5,0.6,0.7,0.8], datum.value) >= 0", "value": -9}, "value": -5}, "labelPadding": 21, "title": "m(D*⁺π)-m(D⁰)\u00a0\u00a0\u00a0\u00a0\u00a0\u00a0\u00a0GeV/c²", "titleAnchor": "end", "titleFontSize": 16, "titlePadding": 8}},
     "y": {"field": "y", "type": "quantitative", "scale": {"domain": [0, 188.5], "nice": false, "zero": false},
      "axis": {"orient": "left", "values": [0,4,8,12,16,20,24,28,32,36,40,44,48,52,56,60,64,68,72,76,80,84,88,92,96,100,104,108,112,116,120,124,128,132,136,140,144,148,152,156,160,164,168,172,176,180,184], "labelExpr": "datum.value % 20 == 0 ? datum.label : ''", "tickSize": {"condition": {"test": "datum.value % 20 == 0", "value": -9}, "value": -5}, "labelPadding": 20, "title": "Events/10 MeV/c²", "titleAnchor": "end", "titleFontSize": 20, "titlePadding": 7}}}},
  {"data": {"name": "crv"}, "transform": [{"filter": "datum.p=='TL' && datum.c!='k'"}],
   "mark": {"type": "line", "strokeWidth": 1.1, "clip": true},
   "encoding": {"x": {"field": "x", "type": "quantitative", "scale": {"domain": [0.251, 0.849], "nice": false, "zero": false}, "axis": null},
     "y": {"field": "y", "type": "quantitative", "scale": {"domain": [0, 188.5], "nice": false, "zero": false}, "axis": null},
     "color": {"field": "c", "type": "nominal", "scale": {"domain": ["b","g","r"], "range": ["#8c8cf2","#82dc82","#f08c8c"]}, "legend": null}}},
  {"data": {"name": "crv"}, "transform": [{"filter": "datum.p=='TL' && datum.c=='k'"}],
   "mark": {"type": "line", "strokeWidth": 1.5, "color": "#474747", "opacity": 0.85, "clip": true},
   "encoding": {"x": {"field": "x", "type": "quantitative", "scale": {"domain": [0.251, 0.849], "nice": false, "zero": false},
      "axis": {"orient": "top", "values": [0.3,0.35,0.4,0.45,0.5,0.55,0.6,0.65,0.7,0.75,0.8], "labels": false, "title": null, "tickSize": {"condition": {"test": "indexof([0.3,0.4,0.5,0.6,0.7,0.8], datum.value) >= 0", "value": -9}, "value": -5}}},
     "y": {"field": "y", "type": "quantitative", "scale": {"domain": [0, 188.5], "nice": false, "zero": false},
      "axis": {"orient": "right", "values": [0,4,8,12,16,20,24,28,32,36,40,44,48,52,56,60,64,68,72,76,80,84,88,92,96,100,104,108,112,116,120,124,128,132,136,140,144,148,152,156,160,164,168,172,176,180,184], "labels": false, "title": null, "tickSize": {"condition": {"test": "datum.value % 20 == 0", "value": -9}, "value": -5}}}}},
  {"data": {"name": "lbl"}, "transform": [{"filter": "datum.p=='TL'"}],
   "mark": {"type": "text", "font": "Liberation Serif", "fontStyle": "italic", "fontWeight": "bold", "fontSize": 19, "align": "center", "baseline": "middle", "color": "#111111"},
   "encoding": {"x": {"field": "x", "type": "quantitative", "scale": {"domain": [0.251, 0.849], "nice": false, "zero": false}, "axis": null},
     "y": {"field": "y", "type": "quantitative", "scale": {"domain": [0, 188.5], "nice": false, "zero": false}, "axis": null},
     "text": {"field": "t"}}}
 ],
 "resolve": {"axis": {"x": "independent", "y": "independent"}}
},
{
 "width": 252, "height": 355,
 "layer": [
  {"data": {"name": "pts"}, "transform": [{"filter": "datum.p=='TR'"}],
   "mark": {"type": "errorbar", "ticks": false, "thickness": 1.3, "color": "#4d4d4d"},
   "encoding": {"x": {"field": "x", "type": "quantitative", "scale": {"domain": [0.251, 0.849], "nice": false, "zero": false}, "axis": null},
     "y": {"field": "y", "type": "quantitative", "scale": {"domain": [0, 211.5], "nice": false, "zero": false}, "axis": null},
     "yError": {"field": "e"}}},
  {"data": {"name": "pts"}, "transform": [{"filter": "datum.p=='TR'"}],
   "mark": {"type": "tick", "orient": "horizontal", "size": 4.5, "thickness": 1.3, "color": "#4d4d4d"},
   "encoding": {"x": {"field": "x", "type": "quantitative", "scale": {"domain": [0.251, 0.849], "nice": false, "zero": false},
      "axis": {"orient": "bottom", "values": [0.3,0.35,0.4,0.45,0.5,0.55,0.6,0.65,0.7,0.75,0.8], "labelExpr": "datum.value == 0.4 || datum.value == 0.6 || datum.value == 0.8 ? format(datum.value, '.1f') : ''", "tickSize": {"condition": {"test": "indexof([0.3,0.4,0.5,0.6,0.7,0.8], datum.value) >= 0", "value": -9}, "value": -5}, "labelPadding": 21, "title": "m(D*⁺π)-m(D⁰)\u00a0\u00a0\u00a0\u00a0\u00a0\u00a0\u00a0GeV/c²", "titleAnchor": "end", "titleFontSize": 16, "titlePadding": 8}},
     "y": {"field": "y", "type": "quantitative", "scale": {"domain": [0, 211.5], "nice": false, "zero": false},
      "axis": {"orient": "left", "values": [0,5,10,15,20,25,30,35,40,45,50,55,60,65,70,75,80,85,90,95,100,105,110,115,120,125,130,135,140,145,150,155,160,165,170,175,180,185,190,195,200,205,210], "labelExpr": "datum.value % 25 == 0 ? datum.label : ''", "tickSize": {"condition": {"test": "datum.value % 25 == 0", "value": -9}, "value": -5}, "labelPadding": 20, "title": "Events/10 MeV/c²", "titleAnchor": "end", "titleFontSize": 20, "titlePadding": 7}}}},
  {"data": {"name": "crv"}, "transform": [{"filter": "datum.p=='TR' && datum.c!='k'"}],
   "mark": {"type": "line", "strokeWidth": 1.1, "clip": true},
   "encoding": {"x": {"field": "x", "type": "quantitative", "scale": {"domain": [0.251, 0.849], "nice": false, "zero": false}, "axis": null},
     "y": {"field": "y", "type": "quantitative", "scale": {"domain": [0, 211.5], "nice": false, "zero": false}, "axis": null},
     "color": {"field": "c", "type": "nominal", "scale": {"domain": ["b","g","r"], "range": ["#8c8cf2","#82dc82","#f08c8c"]}, "legend": null}}},
  {"data": {"name": "crv"}, "transform": [{"filter": "datum.p=='TR' && datum.c=='k'"}],
   "mark": {"type": "line", "strokeWidth": 1.5, "color": "#474747", "opacity": 0.85, "clip": true},
   "encoding": {"x": {"field": "x", "type": "quantitative", "scale": {"domain": [0.251, 0.849], "nice": false, "zero": false},
      "axis": {"orient": "top", "values": [0.3,0.35,0.4,0.45,0.5,0.55,0.6,0.65,0.7,0.75,0.8], "labels": false, "title": null, "tickSize": {"condition": {"test": "indexof([0.3,0.4,0.5,0.6,0.7,0.8], datum.value) >= 0", "value": -9}, "value": -5}}},
     "y": {"field": "y", "type": "quantitative", "scale": {"domain": [0, 211.5], "nice": false, "zero": false},
      "axis": {"orient": "right", "values": [0,5,10,15,20,25,30,35,40,45,50,55,60,65,70,75,80,85,90,95,100,105,110,115,120,125,130,135,140,145,150,155,160,165,170,175,180,185,190,195,200,205,210], "labels": false, "title": null, "tickSize": {"condition": {"test": "datum.value % 25 == 0", "value": -9}, "value": -5}}}}},
  {"data": {"name": "lbl"}, "transform": [{"filter": "datum.p=='TR'"}],
   "mark": {"type": "text", "font": "Liberation Serif", "fontStyle": "italic", "fontWeight": "bold", "fontSize": 19, "align": "center", "baseline": "middle", "color": "#111111"},
   "encoding": {"x": {"field": "x", "type": "quantitative", "scale": {"domain": [0.251, 0.849], "nice": false, "zero": false}, "axis": null},
     "y": {"field": "y", "type": "quantitative", "scale": {"domain": [0, 211.5], "nice": false, "zero": false}, "axis": null},
     "text": {"field": "t"}}}
 ],
 "resolve": {"axis": {"x": "independent", "y": "independent"}}
},
{
 "width": 252, "height": 355,
 "title": {"text": "Untagged", "font": "Liberation Mono", "fontSize": 50, "fontWeight": "bold", "color": "#000000", "anchor": "start", "frame": "group", "dx": 145, "baseline": "alphabetic", "offset": -40},
 "layer": [
  {"data": {"name": "pts"}, "transform": [{"filter": "datum.p=='BL'"}],
   "mark": {"type": "errorbar", "ticks": false, "thickness": 1.3, "color": "#4d4d4d"},
   "encoding": {"x": {"field": "x", "type": "quantitative", "scale": {"domain": [0.251, 0.849], "nice": false, "zero": false}, "axis": null},
     "y": {"field": "y", "type": "quantitative", "scale": {"domain": [0, 251.5], "nice": false, "zero": false}, "axis": null},
     "yError": {"field": "e"}}},
  {"data": {"name": "pts"}, "transform": [{"filter": "datum.p=='BL'"}],
   "mark": {"type": "tick", "orient": "horizontal", "size": 4.5, "thickness": 1.3, "color": "#4d4d4d"},
   "encoding": {"x": {"field": "x", "type": "quantitative", "scale": {"domain": [0.251, 0.849], "nice": false, "zero": false},
      "axis": {"orient": "bottom", "values": [0.3,0.35,0.4,0.45,0.5,0.55,0.6,0.65,0.7,0.75,0.8], "labelExpr": "datum.value == 0.4 || datum.value == 0.6 || datum.value == 0.8 ? format(datum.value, '.1f') : ''", "tickSize": {"condition": {"test": "indexof([0.3,0.4,0.5,0.6,0.7,0.8], datum.value) >= 0", "value": -9}, "value": -5}, "labelPadding": 21, "title": "m(D*⁺π)-m(D⁰)\u00a0\u00a0\u00a0\u00a0\u00a0\u00a0\u00a0GeV/c²", "titleAnchor": "end", "titleFontSize": 16, "titlePadding": 8}},
     "y": {"field": "y", "type": "quantitative", "scale": {"domain": [0, 251.5], "nice": false, "zero": false},
      "axis": {"orient": "left", "values": [0,5,10,15,20,25,30,35,40,45,50,55,60,65,70,75,80,85,90,95,100,105,110,115,120,125,130,135,140,145,150,155,160,165,170,175,180,185,190,195,200,205,210,215,220,225,230,235,240,245,250], "labelExpr": "datum.value % 25 == 0 ? datum.label : ''", "tickSize": {"condition": {"test": "datum.value % 25 == 0", "value": -9}, "value": -5}, "labelPadding": 20, "title": "Events/10 MeV/c²", "titleAnchor": "end", "titleFontSize": 20, "titlePadding": 7}}}},
  {"data": {"name": "crv"}, "transform": [{"filter": "datum.p=='BL' && datum.c!='k'"}],
   "mark": {"type": "line", "strokeWidth": 1.1, "clip": true},
   "encoding": {"x": {"field": "x", "type": "quantitative", "scale": {"domain": [0.251, 0.849], "nice": false, "zero": false}, "axis": null},
     "y": {"field": "y", "type": "quantitative", "scale": {"domain": [0, 251.5], "nice": false, "zero": false}, "axis": null},
     "color": {"field": "c", "type": "nominal", "scale": {"domain": ["b","g","r"], "range": ["#8c8cf2","#82dc82","#f08c8c"]}, "legend": null}}},
  {"data": {"name": "crv"}, "transform": [{"filter": "datum.p=='BL' && datum.c=='k'"}],
   "mark": {"type": "line", "strokeWidth": 1.5, "color": "#474747", "opacity": 0.85, "clip": true},
   "encoding": {"x": {"field": "x", "type": "quantitative", "scale": {"domain": [0.251, 0.849], "nice": false, "zero": false},
      "axis": {"orient": "top", "values": [0.3,0.35,0.4,0.45,0.5,0.55,0.6,0.65,0.7,0.75,0.8], "labels": false, "title": null, "tickSize": {"condition": {"test": "indexof([0.3,0.4,0.5,0.6,0.7,0.8], datum.value) >= 0", "value": -9}, "value": -5}}},
     "y": {"field": "y", "type": "quantitative", "scale": {"domain": [0, 251.5], "nice": false, "zero": false},
      "axis": {"orient": "right", "values": [0,5,10,15,20,25,30,35,40,45,50,55,60,65,70,75,80,85,90,95,100,105,110,115,120,125,130,135,140,145,150,155,160,165,170,175,180,185,190,195,200,205,210,215,220,225,230,235,240,245,250], "labels": false, "title": null, "tickSize": {"condition": {"test": "datum.value % 25 == 0", "value": -9}, "value": -5}}}}},
  {"data": {"name": "lbl"}, "transform": [{"filter": "datum.p=='BL'"}],
   "mark": {"type": "text", "font": "Liberation Serif", "fontStyle": "italic", "fontWeight": "bold", "fontSize": 19, "align": "center", "baseline": "middle", "color": "#111111"},
   "encoding": {"x": {"field": "x", "type": "quantitative", "scale": {"domain": [0.251, 0.849], "nice": false, "zero": false}, "axis": null},
     "y": {"field": "y", "type": "quantitative", "scale": {"domain": [0, 251.5], "nice": false, "zero": false}, "axis": null},
     "text": {"field": "t"}}}
 ],
 "resolve": {"axis": {"x": "independent", "y": "independent"}}
},
{
 "width": 252, "height": 355,
 "layer": [
  {"data": {"name": "pts"}, "transform": [{"filter": "datum.p=='BR'"}],
   "mark": {"type": "errorbar", "ticks": false, "thickness": 1.3, "color": "#4d4d4d"},
   "encoding": {"x": {"field": "x", "type": "quantitative", "scale": {"domain": [0.251, 0.849], "nice": false, "zero": false}, "axis": null},
     "y": {"field": "y", "type": "quantitative", "scale": {"domain": [0, 373], "nice": false, "zero": false}, "axis": null},
     "yError": {"field": "e"}}},
  {"data": {"name": "pts"}, "transform": [{"filter": "datum.p=='BR'"}],
   "mark": {"type": "tick", "orient": "horizontal", "size": 4.5, "thickness": 1.3, "color": "#4d4d4d"},
   "encoding": {"x": {"field": "x", "type": "quantitative", "scale": {"domain": [0.251, 0.849], "nice": false, "zero": false},
      "axis": {"orient": "bottom", "values": [0.3,0.35,0.4,0.45,0.5,0.55,0.6,0.65,0.7,0.75,0.8], "labelExpr": "datum.value == 0.4 || datum.value == 0.6 || datum.value == 0.8 ? format(datum.value, '.1f') : ''", "tickSize": {"condition": {"test": "indexof([0.3,0.4,0.5,0.6,0.7,0.8], datum.value) >= 0", "value": -9}, "value": -5}, "labelPadding": 21, "title": "m(D*⁰π)-m(D⁰)\u00a0\u00a0\u00a0\u00a0\u00a0\u00a0\u00a0GeV/c²", "titleAnchor": "end", "titleFontSize": 16, "titlePadding": 8}},
     "y": {"field": "y", "type": "quantitative", "scale": {"domain": [0, 373], "nice": false, "zero": false},
      "axis": {"orient": "left", "values": [0,25,50,75,100,125,150,175,200,225,250,275,300,325,350], "labelExpr": "datum.value % 50 == 0 ? datum.label : ''", "tickSize": {"condition": {"test": "datum.value % 50 == 0", "value": -9}, "value": -5}, "labelPadding": 20, "title": "Events/10 MeV/c²", "titleAnchor": "end", "titleFontSize": 20, "titlePadding": 7}}}},
  {"data": {"name": "crv"}, "transform": [{"filter": "datum.p=='BR' && datum.c!='k'"}],
   "mark": {"type": "line", "strokeWidth": 1.1, "clip": true},
   "encoding": {"x": {"field": "x", "type": "quantitative", "scale": {"domain": [0.251, 0.849], "nice": false, "zero": false}, "axis": null},
     "y": {"field": "y", "type": "quantitative", "scale": {"domain": [0, 373], "nice": false, "zero": false}, "axis": null},
     "color": {"field": "c", "type": "nominal", "scale": {"domain": ["b","g","r"], "range": ["#8c8cf2","#82dc82","#f08c8c"]}, "legend": null}}},
  {"data": {"name": "crv"}, "transform": [{"filter": "datum.p=='BR' && datum.c=='k'"}],
   "mark": {"type": "line", "strokeWidth": 1.5, "color": "#474747", "opacity": 0.85, "clip": true},
   "encoding": {"x": {"field": "x", "type": "quantitative", "scale": {"domain": [0.251, 0.849], "nice": false, "zero": false},
      "axis": {"orient": "top", "values": [0.3,0.35,0.4,0.45,0.5,0.55,0.6,0.65,0.7,0.75,0.8], "labels": false, "title": null, "tickSize": {"condition": {"test": "indexof([0.3,0.4,0.5,0.6,0.7,0.8], datum.value) >= 0", "value": -9}, "value": -5}}},
     "y": {"field": "y", "type": "quantitative", "scale": {"domain": [0, 373], "nice": false, "zero": false},
      "axis": {"orient": "right", "values": [0,25,50,75,100,125,150,175,200,225,250,275,300,325,350], "labels": false, "title": null, "tickSize": {"condition": {"test": "datum.value % 50 == 0", "value": -9}, "value": -5}}}}},
  {"data": {"name": "lbl"}, "transform": [{"filter": "datum.p=='BR'"}],
   "mark": {"type": "text", "font": "Liberation Serif", "fontStyle": "italic", "fontWeight": "bold", "fontSize": 19, "align": "center", "baseline": "middle", "color": "#111111"},
   "encoding": {"x": {"field": "x", "type": "quantitative", "scale": {"domain": [0.251, 0.849], "nice": false, "zero": false}, "axis": null},
     "y": {"field": "y", "type": "quantitative", "scale": {"domain": [0, 373], "nice": false, "zero": false}, "axis": null},
     "text": {"field": "t"}}}
 ],
 "resolve": {"axis": {"x": "independent", "y": "independent"}}
}
]
}
